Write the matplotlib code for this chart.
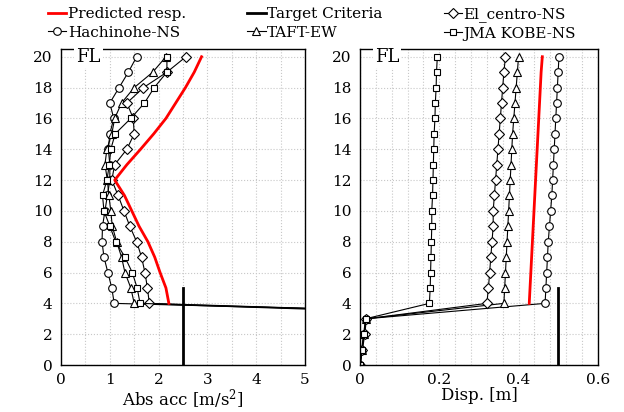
import numpy as np
import matplotlib
matplotlib.use('Agg')
import matplotlib.pyplot as plt
from matplotlib.ticker import MultipleLocator

# pisos
floors = list(range(0, 21))
floors_sup = list(range(4, 21))

# aceleracion absoluta [m/s2] (pisos 0-20)
acc_el = [12, 12, 12, 12, 1.81, 1.77, 1.72, 1.65, 1.55, 1.41, 1.29, 1.17, 1.04, 1.1, 1.35, 1.5, 1.48, 1.35, 1.69, 2.17, 2.56]
acc_hach = [13, 13, 13, 13, 1.09, 1.04, 0.96, 0.88, 0.84, 0.85, 0.9, 0.95, 1.0, 1.0, 0.97, 1.0, 1.08, 1.0, 1.19, 1.38, 1.55]
acc_taft = [11, 11, 11, 11, 1.5, 1.43, 1.31, 1.24, 1.14, 1.05, 1.02, 0.98, 0.95, 0.9, 0.94, 1.04, 1.1, 1.24, 1.5, 1.88, 2.15]
acc_kobe = [12, 12, 12, 12, 1.62, 1.56, 1.46, 1.31, 1.12, 1.0, 0.88, 0.85, 0.94, 0.99, 1.02, 1.11, 1.43, 1.71, 1.91, 2.17, 2.17]
acc_pred = [2.21, 2.15, 2.03, 1.92, 1.78, 1.6, 1.45, 1.3, 1.1, 1.35, 1.63, 1.9, 2.15, 2.35, 2.55, 2.73, 2.88]

# desplazamiento [m]
disp_el = [0, 0.006, 0.012, 0.016, 0.320, 0.324, 0.327, 0.330, 0.333, 0.336, 0.336, 0.339, 0.342, 0.345, 0.348, 0.351, 0.354, 0.357, 0.360, 0.363, 0.367]
disp_hach = [0, 0.005, 0.010, 0.015, 0.467, 0.469, 0.471, 0.473, 0.475, 0.478, 0.481, 0.484, 0.486, 0.488, 0.490, 0.492, 0.494, 0.496, 0.498, 0.500, 0.502]
disp_taft = [0, 0.005, 0.010, 0.015, 0.363, 0.365, 0.367, 0.369, 0.371, 0.373, 0.375, 0.377, 0.379, 0.381, 0.383, 0.385, 0.388, 0.391, 0.394, 0.397, 0.400]
disp_kobe = [0, 0.004, 0.009, 0.014, 0.175, 0.177, 0.178, 0.179, 0.180, 0.181, 0.181, 0.183, 0.184, 0.185, 0.186, 0.187, 0.189, 0.190, 0.192, 0.193, 0.195]
disp_pred = [0.427, 0.429, 0.431, 0.433, 0.435, 0.437, 0.439, 0.441, 0.443, 0.445, 0.447, 0.449, 0.451, 0.453, 0.455, 0.457, 0.460]

# criterio objetivo
target_acc = 2.5
target_disp = 0.5
target_h = [0, 5]

plt.rcParams['font.family'] = ['DejaVu Serif']
plt.rcParams['mathtext.fontset'] = 'dejavuserif'

fig = plt.figure(figsize=(6.24, 4.12), dpi=100)
ax1 = fig.add_axes([0.0978, 0.114, 0.391, 0.767])
ax2 = fig.add_axes([0.577, 0.114, 0.381, 0.767])

mk = dict(color='black', lw=0.8, markerfacecolor='white', markeredgecolor='black', markeredgewidth=0.8)


def dibujar(ax, el, hach, taft, kobe, pred, tgt):
    ax.plot(pred, floors_sup, color='red', lw=2, label='Predicted resp.', zorder=3)
    ax.plot(hach, floors, marker='o', markersize=5.5, label='Hachinohe-NS', **mk)
    ax.plot([tgt, tgt], target_h, color='black', lw=2, label='Target Criteria')
    ax.plot(taft, floors, marker='^', markersize=5.5, label='TAFT-EW', **mk)
    ax.plot(el, floors, marker='D', markersize=5.2, label='El_centro-NS', **mk)
    ax.plot(kobe, floors, marker='s', markersize=5, label='JMA KOBE-NS', **mk)
    ax.set_ylim(0, 20.5)
    ax.yaxis.set_major_locator(MultipleLocator(2))
    ax.grid(which='both', color='#c8c8c8', ls=':', lw=0.8)
    ax.set_axisbelow(True)
    ax.tick_params(which='both', length=0, labelsize=11, pad=6)
    for s in ax.spines.values():
        s.set_color('black')
        s.set_linewidth(1)
    ax.text(0.062, 0.975, 'FL', transform=ax.transAxes, fontsize=13, va='center', ha='left',
            bbox=dict(facecolor='white', edgecolor='none', pad=1.5), zorder=5)


dibujar(ax1, acc_el, acc_hach, acc_taft, acc_kobe, acc_pred, target_acc)
ax1.set_xlim(0, 5)
ax1.xaxis.set_major_locator(MultipleLocator(1))
ax1.xaxis.set_minor_locator(MultipleLocator(0.5))
ax1.set_xlabel('Abs acc [m/s$^2$]', fontsize=12, labelpad=0)

dibujar(ax2, disp_el, disp_hach, disp_taft, disp_kobe, disp_pred, target_disp)
ax2.set_xlim(0, 0.6)
ax2.xaxis.set_minor_locator(MultipleLocator(0.04))
ax2.set_xticks([0, 0.2, 0.4, 0.6])
ax2.set_xticklabels(['0', '0.2', '0.4', '0.6'])
ax2.set_xlabel('Disp. [m]', fontsize=12, labelpad=0)

handles, labels = ax1.get_legend_handles_labels()
fig.legend(handles, labels, ncol=3, loc='upper center', bbox_to_anchor=(0.5, 1.005),
           frameon=False, fontsize=11, handlelength=1.2, handletextpad=0.1,
           columnspacing=4, labelspacing=0.3, borderaxespad=0.2)

fig.savefig('out.png', dpi=100)
